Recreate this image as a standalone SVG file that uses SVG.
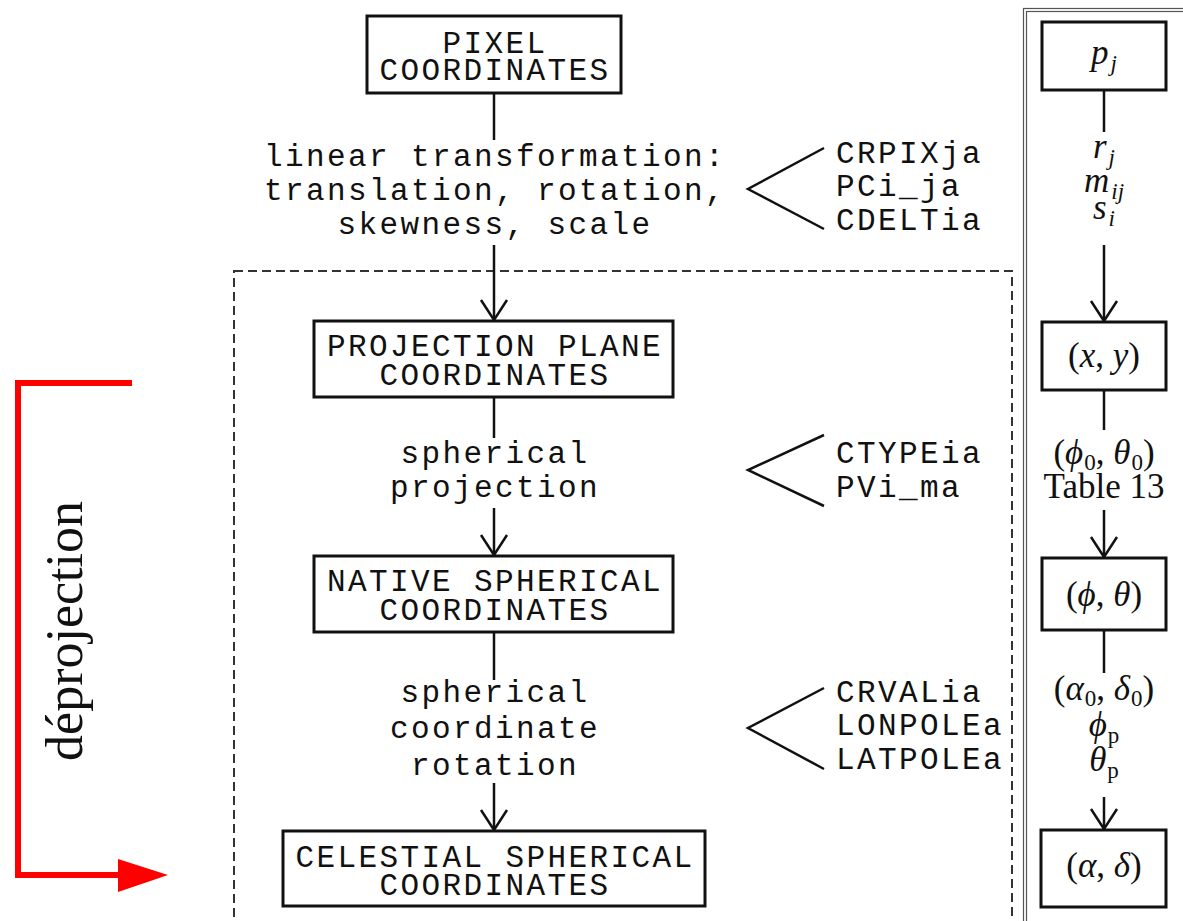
<svg xmlns="http://www.w3.org/2000/svg" width="1183" height="921" viewBox="0 0 1183 921">
<style>
.mono{font-family:"Liberation Mono","Courier New",monospace;font-size:31px;letter-spacing:2.4px;fill:#111;text-anchor:middle}
.monol{font-family:"Liberation Mono","Courier New",monospace;font-size:31px;letter-spacing:2.4px;fill:#111}
.box{fill:#fff;stroke:#111;stroke-width:3}
.ln{fill:none;stroke:#111;stroke-width:2.5}
.math{font-family:"Liberation Serif","Times New Roman",serif;font-size:35px;fill:#111;text-anchor:middle}
.it{font-style:italic}
.sub{font-size:23px}
</style>
<defs>
<marker id="arr" viewBox="0 0 24 30" refX="22" refY="15" markerWidth="24" markerHeight="30" markerUnits="userSpaceOnUse" orient="auto">
<path d="M2,2 L22,15 L2,28" fill="none" stroke="#111" stroke-width="2.5"/>
</marker>
</defs>
<rect width="1183" height="921" fill="#fff"/>

<!-- frames -->
<rect x="234" y="271" width="778" height="700" fill="none" stroke="#333" stroke-width="2" stroke-dasharray="9,5"/>
<rect x="1023.5" y="8.5" width="200" height="1000" fill="none" stroke="#555" stroke-width="1.2"/>
<rect x="1026.5" y="11.5" width="200" height="1000" fill="none" stroke="#555" stroke-width="1.2"/>

<g id="connectors">
<line class="ln" x1="494" y1="93" x2="494" y2="140"/>
<line class="ln" x1="494" y1="245" x2="494" y2="320" marker-end="url(#arr)"/>
<line class="ln" x1="494" y1="397" x2="494" y2="438"/>
<line class="ln" x1="494" y1="508" x2="494" y2="555" marker-end="url(#arr)"/>
<line class="ln" x1="494" y1="632" x2="494" y2="680"/>
<line class="ln" x1="494" y1="783" x2="494" y2="830" marker-end="url(#arr)"/>
<polyline class="ln" points="824,148 748,189 824,229"/>
<polyline class="ln" points="824,435 748,470 824,506"/>
<polyline class="ln" points="824,688 748,728 824,769"/>
<line class="ln" x1="1104" y1="90" x2="1104" y2="132"/>
<line class="ln" x1="1104" y1="245" x2="1104" y2="321" marker-end="url(#arr)"/>
<line class="ln" x1="1104" y1="390" x2="1104" y2="430"/>
<line class="ln" x1="1104" y1="510" x2="1104" y2="557" marker-end="url(#arr)"/>
<line class="ln" x1="1104" y1="630" x2="1104" y2="673"/>
<line class="ln" x1="1104" y1="797" x2="1104" y2="829" marker-end="url(#arr)"/>
</g>

<g id="pixel">
<rect class="box" x="367" y="16" width="254" height="77"/>
<text class="mono" x="495" y="53">PIXEL</text>
<text class="mono" x="495" y="80">COORDINATES</text>
</g>
<g id="linear-label">
<text class="mono" x="495" y="166">linear transformation:</text>
<text class="mono" x="495" y="200">translation, rotation,</text>
<text class="mono" x="495" y="234">skewness, scale</text>
</g>
<g id="params1">
<text class="monol" x="836" y="163">CRPIXja</text>
<text class="monol" x="836" y="196">PCi_ja</text>
<text class="monol" x="836" y="230">CDELTia</text>
</g>
<g id="projplane">
<rect class="box" x="314" y="321" width="359" height="76"/>
<text class="mono" x="495" y="356">PROJECTION PLANE</text>
<text class="mono" x="495" y="385">COORDINATES</text>
</g>
<g id="sphproj-label">
<text class="mono" x="495" y="463">spherical</text>
<text class="mono" x="495" y="497">projection</text>
</g>
<g id="params2">
<text class="monol" x="836" y="463">CTYPEia</text>
<text class="monol" x="836" y="497">PVi_ma</text>
</g>
<g id="native">
<rect class="box" x="314" y="556" width="359" height="76"/>
<text class="mono" x="495" y="591">NATIVE SPHERICAL</text>
<text class="mono" x="495" y="620">COORDINATES</text>
</g>
<g id="rot-label">
<text class="mono" x="495" y="702">spherical</text>
<text class="mono" x="495" y="738">coordinate</text>
<text class="mono" x="495" y="775">rotation</text>
</g>
<g id="params3">
<text class="monol" x="836" y="702">CRVALia</text>
<text class="monol" x="836" y="735">LONPOLEa</text>
<text class="monol" x="836" y="769">LATPOLEa</text>
</g>
<g id="celestial">
<rect class="box" x="283" y="831" width="422" height="75"/>
<text class="mono" x="495" y="867">CELESTIAL SPHERICAL</text>
<text class="mono" x="495" y="895">COORDINATES</text>
</g>

<!-- right column -->
<g id="pj">
<rect class="box" x="1042" y="22" width="124" height="68"/>
<text class="math" x="1104" y="64"><tspan class="it">p</tspan><tspan class="it sub" dx="2" dy="7">j</tspan></text>
</g>
<g id="lin-params">
<text class="math" x="1104" y="158"><tspan class="it">r</tspan><tspan class="it sub" dx="2" dy="7">j</tspan></text>
<text class="math" x="1104" y="192"><tspan class="it">m</tspan><tspan class="it sub" dx="2" dy="7">ij</tspan></text>
<text class="math" x="1104" y="219"><tspan class="it">s</tspan><tspan class="it sub" dx="2" dy="7">i</tspan></text>
</g>
<g id="xy">
<rect class="box" x="1042" y="322" width="124" height="68"/>
<text class="math" x="1104" y="367">(<tspan class="it">x</tspan>, <tspan class="it">y</tspan>)</text>
</g>
<g id="proj-params">
<text class="math" x="1104" y="464">(<tspan class="it">ϕ</tspan><tspan class="sub" dx="1" dy="6">0</tspan><tspan dy="-6">, </tspan><tspan class="it">θ</tspan><tspan class="sub" dx="1" dy="6">0</tspan><tspan dy="-6">)</tspan></text>
<text class="math" x="1104" y="498">Table 13</text>
</g>
<g id="phitheta">
<rect class="box" x="1042" y="558" width="124" height="72"/>
<text class="math" x="1104" y="606">(<tspan class="it">ϕ</tspan>, <tspan class="it">θ</tspan>)</text>
</g>
<g id="rot-params">
<text class="math" x="1104" y="700">(<tspan class="it">α</tspan><tspan class="sub" dx="1" dy="6">0</tspan><tspan dy="-6">, </tspan><tspan class="it">δ</tspan><tspan class="sub" dx="1" dy="6">0</tspan><tspan dy="-6">)</tspan></text>
<text class="math" x="1104" y="736"><tspan class="it">ϕ</tspan><tspan class="sub" dx="1" dy="7">p</tspan></text>
<text class="math" x="1104" y="771"><tspan class="it">θ</tspan><tspan class="sub" dx="1" dy="7">p</tspan></text>
</g>
<g id="alphadelta">
<rect class="box" x="1041" y="830" width="125" height="77"/>
<text class="math" x="1104" y="877">(<tspan class="it">α</tspan>, <tspan class="it">δ</tspan>)</text>
</g>

<!-- red deprojection bracket -->
<g id="deprojection">
<polyline points="132,383 18,383 18,875 122,875" fill="none" stroke="#ff0000" stroke-width="6"/>
<polygon points="118,859 168,875 118,892" fill="#ff0000"/>
<text x="82" y="631" transform="rotate(-90 82 631)" font-family="Liberation Serif,Times New Roman,serif" font-size="52" fill="#111" text-anchor="middle">déprojection</text>
</g>
</svg>
